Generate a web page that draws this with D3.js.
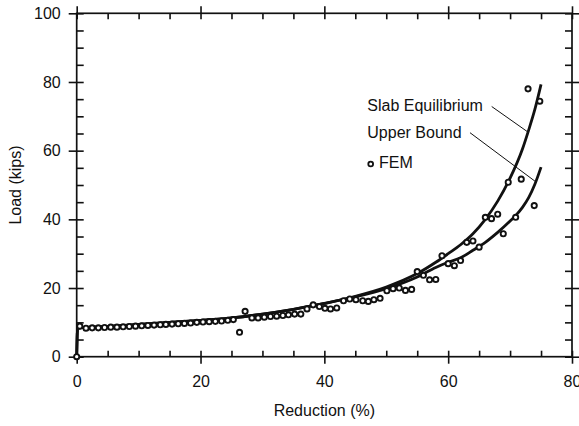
<!DOCTYPE html>
<html>
<head>
<meta charset="utf-8">
<script src="https://cdn.jsdelivr.net/npm/d3@7"></script>
<style>
  body { margin: 0; background: #fff; }
  text { font-family: "Liberation Sans", Arial, Helvetica, sans-serif; fill: #111; }
</style>
</head>
<body>
<div id="chart"></div>
<script>
// Chart data
var xMajor = [0, 20, 40, 60, 80];
var xMinor = [5, 10, 15, 25, 30, 35, 45, 50, 55, 65, 70, 75];
var yMajor = [0, 20, 40, 60, 80, 100];
var yMinor = [5, 10, 15, 25, 30, 35, 45, 50, 55, 65, 70, 75, 85, 90, 95];

// Slab Equilibrium curve [reduction, load]
var slabData = [
  [0, 0], [0.15, 8.3], [5, 8.8], [10, 9.4], [15, 10], [20, 10.6], [25, 11.3],
  [30, 12.4], [35, 13.8], [40, 15.5], [45, 17.6], [50, 20.3], [55, 24.2],
  [58, 27.5], [60, 30], [62, 32.6], [64, 35.8], [66, 40], [68, 45.3],
  [70, 52], [72, 60.5], [73, 66], [74, 72], [75, 79.3]
];

// Upper Bound curve [reduction, load]
var upperData = [
  [0, 0], [0.15, 8.3], [5, 8.8], [10, 9.4], [15, 10], [20, 10.6], [25, 11.3],
  [30, 12.4], [35, 13.8], [40, 15.5], [45, 17.4], [50, 19.8], [55, 23.2],
  [58, 26], [60, 27.5], [62, 28.8], [64, 31], [66, 33.3], [68, 36.2],
  [70, 39.5], [71, 41.3], [72, 43.5], [73, 46.3], [74, 50.2], [75, 55.2]
];

// FEM results [reduction, load]
var femData = [
  [0, 0], [0.5, 8.9], [1.5, 8.3], [2.5, 8.4], [3.5, 8.4], [4.5, 8.5], [5.5, 8.6],
  [6.5, 8.6], [7.5, 8.7], [8.5, 8.8], [9.5, 8.9], [10.5, 9.0], [11.5, 9.1],
  [12.5, 9.2], [13.5, 9.3], [14.4, 9.4], [15.4, 9.5], [16.4, 9.6], [17.4, 9.7],
  [18.4, 9.8], [19.4, 10.0], [20.4, 10.1], [21.4, 10.2], [22.4, 10.3],
  [23.4, 10.4], [24.4, 10.6], [25.3, 10.8],
  [26.3, 7.1], [27.2, 13.2], [28.3, 11.3], [29.3, 11.3], [30.3, 11.5],
  [31.3, 11.7], [32.3, 11.8], [33.3, 12.0], [34.2, 12.2], [35.2, 12.4],
  [36.2, 12.4], [37.2, 13.9], [38.2, 15.1], [39.2, 14.6], [40.1, 14.1],
  [41.0, 13.9], [42.0, 14.2], [43.1, 16.3], [44.1, 16.8], [45.1, 16.6],
  [46.2, 16.3], [47.1, 16.1], [48.0, 16.6], [49.0, 17.0], [50.1, 19.2],
  [51.1, 19.8], [52.1, 20.0], [53.1, 19.3], [54.1, 19.6], [55.0, 24.8],
  [56.0, 23.7], [57.0, 22.4], [58.0, 22.5], [59.0, 29.4], [60.0, 27.1],
  [61.0, 26.5], [62.0, 28.0], [63.0, 33.3], [64.0, 33.7], [65.0, 31.9],
  [66.0, 40.6], [67.0, 40.2], [68.0, 41.5], [68.9, 35.8], [69.7, 50.8],
  [70.9, 40.6], [71.8, 51.7], [72.9, 78.0], [73.9, 44.0], [74.8, 74.4]
];

var svgWidth = 579;
var svgHeight = 426;

var margin = { top: 13.3, right: 7, bottom: 69.3, left: 76.7 };
var width = svgWidth - margin.left - margin.right;
var height = svgHeight - margin.top - margin.bottom;

var svg = d3.select("#chart")
  .append("svg")
  .attr("width", svgWidth)
  .attr("height", svgHeight);

var chartGroup = svg.append("g")
  .attr("transform", `translate(${margin.left}, ${margin.top})`);

var xScale = d3.scaleLinear().domain([0, 80]).range([0, width]);
var yScale = d3.scaleLinear().domain([0, 100]).range([height, 0]);

var fontSize = "16px";

function styleAxis(g) {
  g.select(".domain").remove();
  g.selectAll("line").attr("stroke", "#111").attr("stroke-width", 1.6);
  g.selectAll("text").style("font-size", fontSize).attr("fill", "#111");
}

// bottom axis: labelled major ticks (outward) + inward parts + minor ticks
chartGroup.append("g")
  .attr("transform", `translate(0, ${height})`)
  .call(d3.axisBottom(xScale).tickValues(xMajor).tickSize(7).tickPadding(12).tickFormat(d3.format("d")))
  .call(styleAxis);
chartGroup.append("g")
  .attr("transform", `translate(0, ${height})`)
  .call(d3.axisBottom(xScale).tickValues(xMajor.concat(xMinor)).tickSize(-6).tickFormat(""))
  .call(styleAxis);

// top axis
chartGroup.append("g")
  .call(d3.axisTop(xScale).tickValues(xMajor).tickSize(7).tickFormat(""))
  .call(styleAxis);
chartGroup.append("g")
  .call(d3.axisTop(xScale).tickValues(xMajor.concat(xMinor)).tickSize(-6).tickFormat(""))
  .call(styleAxis);

// left axis
chartGroup.append("g")
  .call(d3.axisLeft(yScale).tickValues(yMajor).tickSize(8).tickPadding(8).tickFormat(d3.format("d")))
  .call(styleAxis);
chartGroup.append("g")
  .call(d3.axisLeft(yScale).tickValues(yMajor.concat(yMinor)).tickSize(-7).tickFormat(""))
  .call(styleAxis);

// right axis
chartGroup.append("g")
  .attr("transform", `translate(${width}, 0)`)
  .call(d3.axisRight(yScale).tickValues(yMajor).tickSize(7).tickFormat(""))
  .call(styleAxis);
chartGroup.append("g")
  .attr("transform", `translate(${width}, 0)`)
  .call(d3.axisRight(yScale).tickValues(yMajor.concat(yMinor)).tickSize(-7).tickFormat(""))
  .call(styleAxis);

// frame
chartGroup.append("rect")
  .attr("x", 0).attr("y", 0)
  .attr("width", width).attr("height", height)
  .attr("fill", "none")
  .attr("stroke", "#111")
  .attr("stroke-width", 1.7);

// axis titles
chartGroup.append("text")
  .attr("x", xScale(40))
  .attr("y", height + 59.5)
  .attr("text-anchor", "middle")
  .style("font-size", fontSize)
  .text("Reduction (%)");

chartGroup.append("text")
  .attr("transform", `translate(${-margin.left + 21}, ${height / 2}) rotate(-90)`)
  .attr("text-anchor", "middle")
  .style("font-size", fontSize)
  .text("Load (kips)");

// curves
var lineGen = d3.line()
  .x(d => xScale(d[0]))
  .y(d => yScale(d[1]))
  .curve(d3.curveMonotoneX);

chartGroup.append("path")
  .datum(upperData)
  .attr("d", lineGen)
  .attr("fill", "none")
  .attr("stroke", "#111")
  .attr("stroke-width", 2.8);

chartGroup.append("path")
  .datum(slabData)
  .attr("d", lineGen)
  .attr("fill", "none")
  .attr("stroke", "#111")
  .attr("stroke-width", 2.8);

// FEM points
chartGroup.selectAll(".fem")
  .data(femData)
  .enter()
  .append("circle")
  .attr("class", "fem")
  .attr("cx", d => xScale(d[0]))
  .attr("cy", d => yScale(d[1]))
  .attr("r", 2.6)
  .attr("fill", "#fff")
  .attr("stroke", "#111")
  .attr("stroke-width", 1.9);

// labels with leader lines (text positions in px, targets on the curves)
var labelX = 367.3 - margin.left;

chartGroup.append("text")
  .attr("x", labelX)
  .attr("y", 110.7 - margin.top)
  .style("font-size", fontSize)
  .text("Slab Equilibrium");

chartGroup.append("text")
  .attr("x", labelX)
  .attr("y", 138.3 - margin.top)
  .style("font-size", fontSize)
  .text("Upper Bound");

chartGroup.append("circle")
  .attr("cx", 370.7 - margin.left)
  .attr("cy", 164 - margin.top)
  .attr("r", 2.4)
  .attr("fill", "#fff")
  .attr("stroke", "#111")
  .attr("stroke-width", 1.8);

chartGroup.append("text")
  .attr("x", 379 - margin.left)
  .attr("y", 168.5 - margin.top)
  .style("font-size", fontSize)
  .text("FEM");

chartGroup.append("line")
  .attr("x1", 491.7 - margin.left).attr("y1", 106.5 - margin.top)
  .attr("x2", xScale(72.9)).attr("y2", yScale(65.4))
  .attr("stroke", "#111").attr("stroke-width", 1);

chartGroup.append("line")
  .attr("x1", 470 - margin.left).attr("y1", 132.7 - margin.top)
  .attr("x2", xScale(74.1)).attr("y2", yScale(51))
  .attr("stroke", "#111").attr("stroke-width", 1);
</script>
</body>
</html>
